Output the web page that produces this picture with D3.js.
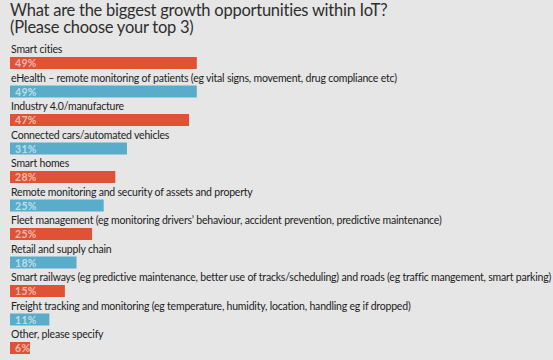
<!DOCTYPE html>
<html>
<head>
<meta charset="utf-8">
<script src="https://cdn.jsdelivr.net/npm/d3@7"></script>
<style>
  body { margin: 0; background: #e6e6e6; }
  text { font-family: Lato, "Open Sans", sans-serif; }
</style>
</head>
<body>
<div id="viz"></div>
<script>
const w = 553;
const h = 360;

const titleLines = ['What are the biggest growth opportunities within IoT?', '(Please choose your top 3)'];

const categories = [
    'Smart cities',
    'eHealth \u2013 remote monitoring of patients (eg vital signs, movement, drug compliance etc)',
    'Industry 4.0/manufacture',
    'Connected cars/automated vehicles',
    'Smart homes',
    'Remote monitoring and security of assets and property',
    'Fleet management (eg monitoring drivers\u2019 behaviour, accident prevention, predictive maintenance)',
    'Retail and supply chain',
    'Smart railways (eg predictive maintenance, better use of tracks/scheduling) and roads (eg traffic mangement, smart parking)',
    'Freight tracking and monitoring (eg temperature, humidity, location, handling eg if dropped)',
    'Other, please specify'
];
// bar lengths as drawn
const values = [49, 49, 47, 31, 28, 25, 22, 18, 15, 11, 6];
// printed labels
const pctLabels = ['49%', '49%', '47%', '31%', '28%', '25%', '25%', '18%', '15%', '11%', '6%'];

const colors = ['#e05236', '#5aadca'];

const svg = d3.select('#viz').append('svg')
    .attr('width', w)
    .attr('height', h)

svg.append('rect').attr('width', w).attr('height', h).attr('fill', '#e6e6e6')

svg.append('g').selectAll('text')
    .data(titleLines)
    .join('text')
    .attr('x', 10)
    .attr('y', (d, i) => 15.5 + i * 17.5)
    .attr('fill', '#2e2e2e')
    .attr('font-size', 16.5)
    .attr('letter-spacing', -0.25)
    .text(d => d)

const x = d3.scaleLinear().domain([0, 49]).range([6.7, 196.8])
const y = d3.scaleBand().domain(d3.range(categories.length)).range([43, 43 + 28.5 * 11]).padding(0)

let rows = svg.append('g').selectAll('g')
    .data(categories)
    .join('g')
    .attr('transform', (d, i) => `translate(0,${y(i)})`)

rows.append('text')
    .attr('x', 11)
    .attr('y', 10)
    .attr('fill', '#222')
    .attr('font-size', 10.5)
    .attr('letter-spacing', -0.2)
    .text(d => d)

rows.append('rect')
    .attr('x', 10)
    .attr('y', 14)
    .attr('height', 12)
    .attr('width', (d, i) => x(values[i]) - 10)
    .attr('fill', (d, i) => colors[i % 2])

rows.append('text')
    .attr('x', 15)
    .attr('y', 24)
    .attr('font-size', 10.5)
    .attr('font-weight', 'bold')
    .attr('letter-spacing', 0.3)
    .attr('fill', 'rgba(255,255,255,0.6)')
    .text((d, i) => pctLabels[i])
</script>
</body>
</html>
